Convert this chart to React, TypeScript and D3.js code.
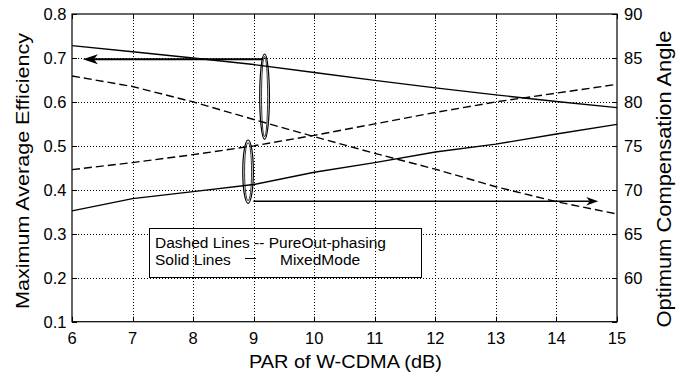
import * as d3 from "d3";

// PAR of W-CDMA (dB)
const par = [6, 7, 8, 9, 10, 11, 12, 13, 14, 15];
// left axis: maximum average efficiency
const effMixed = [0.728, 0.714, 0.7, 0.685, 0.667, 0.649, 0.632, 0.616, 0.601, 0.587];
const effPure = [0.659, 0.635, 0.6, 0.56, 0.521, 0.483, 0.447, 0.407, 0.373, 0.345];
// right axis: optimum compensation angle
const angleMixed = [67.6, 69.0, 69.8, 70.6, 72.0, 73.1, 74.3, 75.2, 76.35, 77.45];
const anglePure = [72.3, 73.1, 74.0, 75.0, 76.2, 77.5, 78.8, 80.0, 81.0, 82.0];

const W = 684;
const H = 380;
const box = { left: 72, right: 617, top: 14, bottom: 321.7 };
const font = "'Liberation Sans', Arial, Helvetica, sans-serif";

const x = d3.scaleLinear().domain([6, 15]).range([box.left, box.right]);
const yL = d3.scaleLinear().domain([0.1, 0.8]).range([box.bottom, box.top]);
const yR = d3.scaleLinear().domain([55, 90]).range([box.bottom, box.top]);

// crisp 1px grid lines
const snap = (v: number) => Math.round(v) + 0.5;

function arrowHead(tx: number, ty: number, dir: number, len: number, half: number, notch: number) {
  return `M${tx},${ty}L${tx - dir * len},${ty - half}L${tx - dir * notch},${ty}L${tx - dir * len},${ty + half}Z`;
}

function Ellipse({ x0, x1, y0, y1 }: { x0: number; x1: number; y0: number; y1: number }) {
  const cx = (x0 + x1) / 2;
  const cy = (y0 + y1) / 2;
  const rx = Math.abs(x1 - x0) / 2;
  const ry = Math.abs(y1 - y0) / 2;
  return (
    <g fill="none" stroke="#000">
      <ellipse cx={cx} cy={cy} rx={rx} ry={ry} strokeWidth={1.2} />
      <ellipse cx={cx} cy={cy} rx={rx - 1.8} ry={ry - 2.5} strokeWidth={0.8} />
    </g>
  );
}

export default function App() {
  const lineL = d3
    .line<number>()
    .x((_, i) => x(par[i]))
    .y((d) => yL(d));
  const lineR = d3
    .line<number>()
    .x((_, i) => x(par[i]))
    .y((d) => yR(d));

  const xTicks = x.ticks(10);
  const yTicks = yL.ticks(7);
  const rTicks = yR.ticks(7);

  const upArrowY = yL(0.697);
  const loArrowY = yR(68.7);

  const legend = { x0: 149.5, x1: 421.5, y0: 228.5, y1: 277.5 };

  return (
    <svg
      width={W}
      height={H}
      style={{ position: "absolute", left: 0, top: 0, background: "#fff" }}
      fontFamily={font}
    >
      <rect width={W} height={H} fill="#fff" />

      {/* horizontal grid (under the legend) */}
      <g stroke="#000" strokeWidth={1} strokeDasharray="1,2">
        {yTicks.slice(1, -1).map((t) => (
          <line key={t} x1={box.left} x2={box.right} y1={snap(yL(t))} y2={snap(yL(t))} />
        ))}
      </g>

      {/* legend */}
      <rect
        x={legend.x0}
        y={legend.y0}
        width={legend.x1 - legend.x0}
        height={legend.y1 - legend.y0}
        fill="#fff"
        stroke="#000"
        strokeWidth={1}
      />

      {/* vertical grid */}
      <g stroke="#000" strokeWidth={1} strokeDasharray="1,2">
        {xTicks.slice(1, -1).map((t) => (
          <line key={t} x1={snap(x(t))} x2={snap(x(t))} y1={box.top} y2={box.bottom} />
        ))}
      </g>

      <g fontSize={15.5} fill="#000">
        <text x={155} y={247.5}>Dashed Lines -- PureOut-phasing</text>
        <text x={155} y={265}>Solid Lines</text>
        <line x1={245} x2={256} y1={258.5} y2={258.5} stroke="#000" strokeWidth={1} />
        <text x={280} y={265}>MixedMode</text>
      </g>

      {/* data lines */}
      <g fill="none" stroke="#000" strokeWidth={1.4}>
        <path d={lineL(effMixed) ?? ""} />
        <path d={lineL(effPure) ?? ""} strokeDasharray="8,4" />
        <path d={lineR(angleMixed) ?? ""} />
        <path d={lineR(anglePure) ?? ""} strokeDasharray="8,4" />
      </g>

      {/* annotations */}
      <Ellipse x0={x(9.1)} x1={x(9.26)} y0={yL(0.709)} y1={yL(0.515)} />
      <Ellipse x0={x(8.82)} x1={x(8.995)} y0={yL(0.5134)} y1={yL(0.3694)} />
      <line x1={x(9.15)} x2={x(6.3)} y1={upArrowY} y2={upArrowY} stroke="#000" strokeWidth={2} />
      <path d={arrowHead(x(6.18), upArrowY, -1, 15, 5, 11)} fill="#000" />
      <line x1={x(8.995)} x2={x(14.55)} y1={loArrowY} y2={loArrowY} stroke="#000" strokeWidth={1.6} />
      <path d={arrowHead(x(14.69), loArrowY, 1, 12, 4.2, 8.5)} fill="#000" />

      {/* frame */}
      <rect
        x={box.left}
        y={box.top}
        width={box.right - box.left}
        height={box.bottom - box.top}
        fill="none"
        stroke="#000"
        strokeWidth={1.2}
      />

      {/* ticks */}
      <g stroke="#000" strokeWidth={1}>
        {xTicks.map((t) => (
          <g key={t}>
            <line x1={snap(x(t))} x2={snap(x(t))} y1={box.bottom} y2={box.bottom - 5} />
            <line x1={snap(x(t))} x2={snap(x(t))} y1={box.top} y2={box.top + 5} />
          </g>
        ))}
        {yTicks.map((t) => (
          <line key={t} x1={box.left} x2={box.left + 5} y1={snap(yL(t))} y2={snap(yL(t))} />
        ))}
        {rTicks.map((t) => (
          <line key={t} x1={box.right} x2={box.right - 5} y1={snap(yR(t))} y2={snap(yR(t))} />
        ))}
      </g>

      <g fontSize={16.5} fill="#000">
        {xTicks.map((t) => (
          <text key={t} x={x(t)} y={344} textAnchor="middle">
            {t}
          </text>
        ))}
        {yTicks.map((t) => (
          <text key={t} x={66.5} y={yL(t) + 5.9} textAnchor="end">
            {d3.format(".1f")(t)}
          </text>
        ))}
        {rTicks
          .filter((t) => t > 55)
          .map((t) => (
            <text key={t} x={624} y={yR(t) + 5.9} textAnchor="start">
              {t}
            </text>
          ))}
      </g>

      {/* axis titles */}
      <text
        x={345.5}
        y={368}
        fontSize={18.5}
        textAnchor="middle"
        textLength={193}
        lengthAdjust="spacingAndGlyphs"
      >
        PAR of W-CDMA (dB)
      </text>
      <text
        transform={`translate(28.5,${171}) rotate(-90)`}
        fontSize={18.5}
        textAnchor="middle"
        textLength={276}
        lengthAdjust="spacingAndGlyphs"
      >
        Maximum Average Efficiency
      </text>
      <text
        transform={`translate(671,${179}) rotate(-90)`}
        fontSize={19.5}
        textAnchor="middle"
        textLength={297}
        lengthAdjust="spacingAndGlyphs"
      >
        Optimum Compensation Angle
      </text>
    </svg>
  );
}
